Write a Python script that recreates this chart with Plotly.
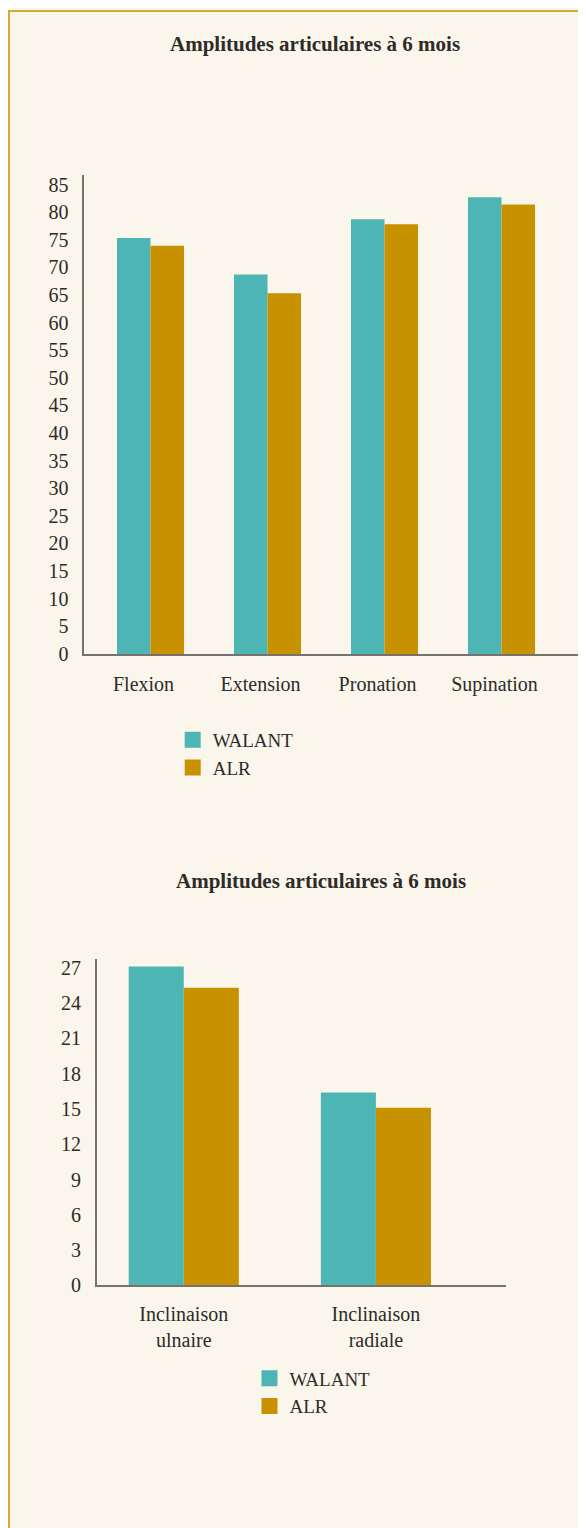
import plotly.graph_objects as go

# ---- data ----
title_1 = "Amplitudes articulaires à 6 mois"
categories_1 = ["Flexion", "Extension", "Pronation", "Supination"]
walant_1 = [75.3, 68.7, 78.7, 82.7]
alr_1 = [73.9, 65.3, 77.8, 81.4]
yticks_1 = list(range(0, 90, 5))

title_2 = "Amplitudes articulaires à 6 mois"
categories_2 = ["Inclinaison<br>ulnaire", "Inclinaison<br>radiale"]
walant_2 = [27.1, 16.4]
alr_2 = [25.3, 15.1]
yticks_2 = list(range(0, 30, 3))

series_names = ["WALANT", "ALR"]

# ---- style ----
OFF = 8                      # page body margin
FW, FH = 586 - OFF, 1528 - OFF
TEAL = "#4EB5B5"
GOLD = "#C89100"
CREAM = "#FAF6EC"
BORDER = "#D9A935"
TEXT = "#2e2b28"
AXIS = "#767270"
FONT = "Liberation Serif"


def px_x(p):
    """page x pixel -> paper fraction"""
    return (p - OFF) / FW


def px_y(p):
    """page y pixel -> paper fraction"""
    return 1 - (p - OFF) / FH


fig = go.Figure()

colors = [TEAL, GOLD]
for name, vals, col in zip(series_names, [walant_1, alr_1], colors):
    fig.add_trace(go.Bar(x=categories_1, y=vals, name=name, marker=dict(color=col, line=dict(width=0)),
                         xaxis="x", yaxis="y", showlegend=False, legendgroup=name + "1"))
    fig.add_trace(go.Scatter(x=[None], y=[None], mode="markers", name=name,
                             marker=dict(symbol="square", size=16, color=col, line=dict(width=0)),
                             xaxis="x", yaxis="y", legend="legend", legendgroup=name + "1"))

for name, vals, col in zip(series_names, [walant_2, alr_2], colors):
    fig.add_trace(go.Bar(x=categories_2, y=vals, name=name, marker=dict(color=col, line=dict(width=0)),
                         xaxis="x2", yaxis="y2", showlegend=False, legendgroup=name + "2"))
    fig.add_trace(go.Scatter(x=[None], y=[None], mode="markers", name=name,
                             marker=dict(symbol="square", size=16, color=col, line=dict(width=0)),
                             xaxis="x2", yaxis="y2", legend="legend2", legendgroup=name + "2"))

tick_font = dict(family=FONT, size=20, color=TEXT)
legend_font = dict(family=FONT, size=19, color=TEXT)

fig.update_layout(
    width=FW, height=FH,
    margin=dict(l=0, r=0, t=0, b=0),
    paper_bgcolor=CREAM,
    plot_bgcolor="rgba(0,0,0,0)",
    barmode="group", bargap=0.427, bargroupgap=0,
    font=dict(family=FONT, color=TEXT),
    xaxis=dict(domain=[px_x(84.3), px_x(580)], range=[-0.566, 3.671], type="category",
               categoryorder="array", categoryarray=categories_1,
               showline=True, linecolor=AXIS, linewidth=1.5, ticks="", showgrid=False,
               zeroline=False, tickfont=tick_font, ticklabelshift=-7, ticklabelstandoff=11,
               anchor="y", fixedrange=True),
    yaxis=dict(domain=[px_y(657.5), px_y(174)], range=[0, 86.8], tickvals=yticks_1,
               showline=True, linecolor=AXIS, linewidth=1.5, ticks="", showgrid=False,
               zeroline=False, tickfont=tick_font, ticklabelstandoff=10, anchor="x", fixedrange=True),
    xaxis2=dict(domain=[px_x(96.7), px_x(506)], range=[-0.453, 1.677], type="category",
                categoryorder="array", categoryarray=categories_2,
                showline=True, linecolor=AXIS, linewidth=1.5, ticks="", showgrid=False,
                zeroline=False, tickfont=tick_font, ticklabelstandoff=10,
                anchor="y2", fixedrange=True),
    yaxis2=dict(domain=[px_y(1294.5), px_y(965)], range=[0, 27.76], tickvals=yticks_2,
                showline=True, linecolor=AXIS, linewidth=1.5, ticks="", showgrid=False,
                zeroline=False, tickfont=tick_font, ticklabelstandoff=10, anchor="x2", fixedrange=True),
    legend=dict(x=px_x(172.7), y=px_y(725), xanchor="left", yanchor="top",
                bgcolor="rgba(0,0,0,0)", borderwidth=0, tracegroupgap=0,
                font=legend_font, itemclick=False, itemdoubleclick=False),
    legend2=dict(x=px_x(249.5), y=px_y(1369), xanchor="left", yanchor="top",
                 bgcolor="rgba(0,0,0,0)", borderwidth=0, tracegroupgap=0,
                 font=legend_font, itemclick=False, itemdoubleclick=False),
    shapes=[
        dict(type="rect", xref="paper", yref="paper", layer="below",
             x0=px_x(9), x1=px_x(620), y0=px_y(1600), y1=px_y(9),
             fillcolor="rgba(0,0,0,0)", line=dict(color=BORDER, width=2)),
    ],
    annotations=[
        dict(text="<b>" + title_1 + "</b>", xref="paper", yref="paper", x=px_x(315), y=px_y(42),
             xanchor="center", yanchor="middle", showarrow=False,
             font=dict(family=FONT, size=21, color=TEXT)),
        dict(text="<b>" + title_2 + "</b>", xref="paper", yref="paper", x=px_x(321), y=px_y(887),
             xanchor="center", yanchor="middle", showarrow=False,
             font=dict(family=FONT, size=21, color=TEXT)),
    ],
)

fig.write_html("out.html", config={"displayModeBar": False})
